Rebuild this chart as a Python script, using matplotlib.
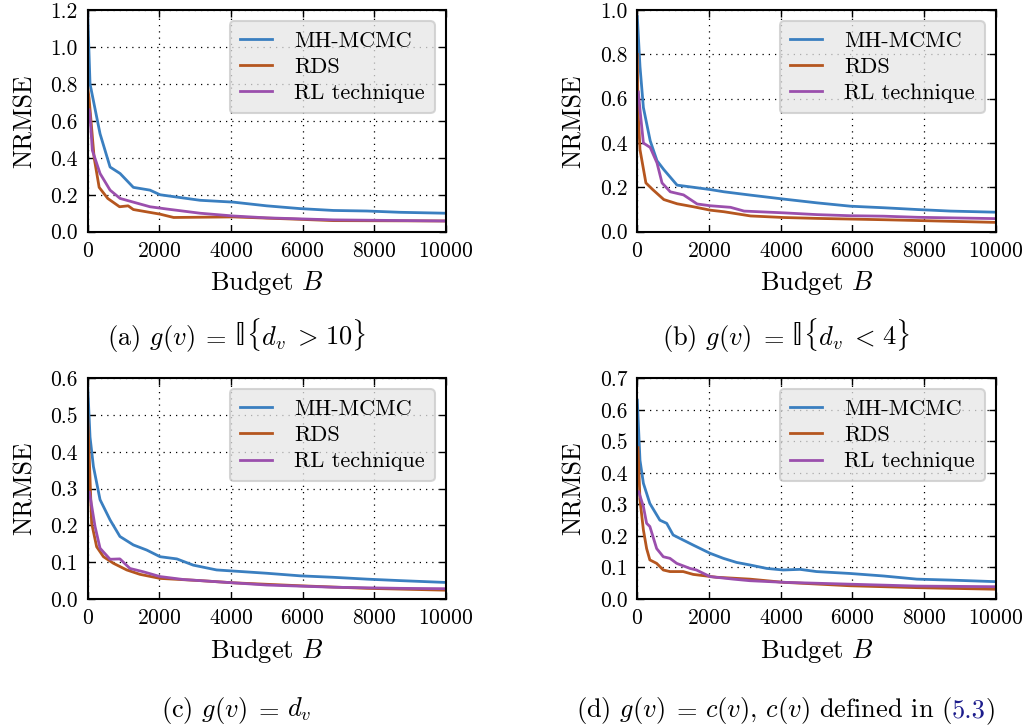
import matplotlib
matplotlib.use("Agg")
import matplotlib.pyplot as plt
import numpy as np

plt.rcParams['font.family'] = 'serif'
plt.rcParams['font.serif'] = ['cmr10', 'DejaVu Serif']
plt.rcParams['mathtext.fontset'] = 'cm'
plt.rcParams['axes.formatter.use_mathtext'] = True
plt.rcParams['axes.unicode_minus'] = False

# ---------------- data ----------------
series_names = ["MH-MCMC", "RDS", "RL technique"]
series_colors = ["#3a7fc0", "#b5561f", "#9b4fad"]

# panel (a)
a_mh_x = [0, 65, 345, 625, 905, 1275, 1740, 2020, 3140, 4070, 5000, 5930, 6860, 7800, 8730, 10000]
a_mh_y = [1.18, 0.80, 0.53, 0.35, 0.315, 0.24, 0.225, 0.20, 0.17, 0.16, 0.14, 0.125, 0.115, 0.112, 0.105, 0.10]
a_rds_x = [0, 40, 180, 320, 560, 890, 1130, 1275, 2020, 2400, 4070, 5930, 6860, 10000]
a_rds_y = [0.78, 0.72, 0.40, 0.24, 0.18, 0.135, 0.14, 0.12, 0.095, 0.077, 0.08, 0.067, 0.06, 0.058]
a_rl_x = [40, 60, 130, 345, 625, 905, 1275, 1740, 2200, 3140, 4070, 5000, 6860, 10000]
a_rl_y = [0.66, 0.64, 0.44, 0.315, 0.225, 0.18, 0.16, 0.135, 0.123, 0.10, 0.085, 0.075, 0.064, 0.058]

# panel (b)
b_mh_x = [0, 75, 170, 360, 550, 740, 1110, 1580, 2040, 2420, 3160, 4090, 5020, 5950, 6880, 7810, 8740, 10000]
b_mh_y = [0.97, 0.745, 0.56, 0.41, 0.32, 0.28, 0.21, 0.20, 0.19, 0.18, 0.165, 0.147, 0.13, 0.115, 0.108, 0.10, 0.093, 0.088]
b_rds_x = [0, 20, 75, 240, 430, 740, 1110, 1580, 2040, 2420, 3160, 4090, 5020, 5950, 6880, 10000]
b_rds_y = [0.80, 0.55, 0.37, 0.22, 0.19, 0.145, 0.126, 0.112, 0.097, 0.09, 0.071, 0.064, 0.06, 0.057, 0.054, 0.042]
b_rl_x = [30, 75, 170, 360, 550, 690, 920, 1290, 1670, 2040, 2600, 2980, 4090, 5020, 5950, 6880, 7810, 10000]
b_rl_y = [0.63, 0.55, 0.40, 0.38, 0.31, 0.22, 0.18, 0.166, 0.125, 0.117, 0.11, 0.093, 0.085, 0.077, 0.072, 0.07, 0.065, 0.059]

# panel (c)
c_mh_x = [0, 65, 160, 345, 625, 900, 1275, 1650, 2020, 2490, 2950, 3600, 4070, 5000, 5930, 6860, 7800, 8720, 10000]
c_mh_y = [0.58, 0.44, 0.36, 0.27, 0.215, 0.17, 0.147, 0.133, 0.115, 0.109, 0.092, 0.079, 0.076, 0.07, 0.063, 0.059, 0.054, 0.05, 0.045]
c_rds_x = [0, 45, 110, 250, 440, 720, 1090, 1460, 2020, 3140, 4070, 5930, 7800, 10000]
c_rds_y = [0.50, 0.38, 0.206, 0.142, 0.115, 0.097, 0.079, 0.067, 0.056, 0.05, 0.044, 0.036, 0.029, 0.024]
c_rl_x = [50, 205, 345, 625, 900, 1180, 1555, 2020, 2670, 3600, 5000, 6860, 8720, 10000]
c_rl_y = [0.29, 0.197, 0.138, 0.108, 0.109, 0.083, 0.074, 0.061, 0.053, 0.047, 0.038, 0.032, 0.029, 0.028]

# panel (d)
d_mh_x = [0, 75, 170, 260, 350, 630, 820, 1000, 1280, 1560, 2030, 2400, 2770, 3140, 3610, 4070, 4540, 5000, 5930, 6870, 7800, 8730, 10000]
d_mh_y = [0.63, 0.44, 0.367, 0.335, 0.303, 0.25, 0.24, 0.203, 0.187, 0.171, 0.145, 0.129, 0.116, 0.108, 0.097, 0.092, 0.094, 0.087, 0.081, 0.073, 0.063, 0.06, 0.055]
d_rds_x = [20, 75, 170, 260, 350, 540, 725, 910, 1280, 1560, 2210, 3140, 4070, 5930, 7800, 10000]
d_rds_y = [0.48, 0.314, 0.219, 0.16, 0.124, 0.113, 0.092, 0.087, 0.087, 0.078, 0.069, 0.063, 0.053, 0.042, 0.036, 0.031]
d_rl_x = [40, 170, 260, 350, 540, 725, 910, 1100, 1470, 1650, 2030, 2680, 3140, 4070, 5930, 7800, 10000]
d_rl_y = [0.34, 0.293, 0.24, 0.23, 0.16, 0.134, 0.129, 0.113, 0.097, 0.092, 0.071, 0.063, 0.058, 0.053, 0.047, 0.041, 0.039]

y_limits = [1.2, 1.0, 0.6, 0.7]
y_steps = [0.2, 0.2, 0.1, 0.1]
x_ticks = [0, 2000, 4000, 6000, 8000, 10000]

panels = [
    [(a_mh_x, a_mh_y), (a_rds_x, a_rds_y), (a_rl_x, a_rl_y)],
    [(b_mh_x, b_mh_y), (b_rds_x, b_rds_y), (b_rl_x, b_rl_y)],
    [(c_mh_x, c_mh_y), (c_rds_x, c_rds_y), (c_rl_x, c_rl_y)],
    [(d_mh_x, d_mh_y), (d_rds_x, d_rds_y), (d_rl_x, d_rl_y)],
]

BLUE_REF = '#1c1c8c'
BB = 'bb'   # marker for the blackboard-bold glyph
# caption pieces: (text, color, kind, gap_after_px)
captions = [
    [("(a) $g(v)$", 'black', 'cm', 7), ("$=$", 'black', 'cm', 7), ("\U0001D540", 'black', BB, 1),
     ("$\\{d_v$", 'black', 'cm', 7), ("$>$", 'black', 'cm', 7), ("$10\\}$", 'black', 'cm', 0)],
    [("(b) $g(v)$", 'black', 'cm', 7), ("$=$", 'black', 'cm', 7), ("\U0001D540", 'black', BB, 1),
     ("$\\{d_v$", 'black', 'cm', 7), ("$<$", 'black', 'cm', 7), ("$4\\}$", 'black', 'cm', 0)],
    [("(c) $g(v)$", 'black', 'cm', 7), ("$=$", 'black', 'cm', 7), ("$d_v$", 'black', 'cm', 0)],
    [("(d) $g(v)$", 'black', 'cm', 7), ("$=$", 'black', 'cm', 7),
     ("$c(v)$, $c(v)$ defined in (", 'black', 'cm', 0), ("5.3", BLUE_REF, 'cm', 0),
     (")", 'black', 'cm', 0)],
]

# ---------------- figure ----------------
W, H = 1028, 726
fig = plt.figure(figsize=(W / 100, H / 100), dpi=100)

axes_px = [  # left, top, right, bottom in pixels
    (87.7, 10.0, 445.7, 231.7),
    (637.3, 10.0, 995.7, 231.7),
    (87.7, 378.3, 445.7, 599.0),
    (637.3, 378.3, 995.7, 599.0),
]

for i, (l, t, r, b) in enumerate(axes_px):
    ax = fig.add_axes([l / W, 1 - b / H, (r - l) / W, (b - t) / H])
    for (xs, ys), name, col in zip(panels[i], series_names, series_colors):
        ax.plot(xs, ys, color=col, lw=2.0, label=name)
    ax.set_xlim(0, 10000)
    ax.set_ylim(0, y_limits[i])
    ax.set_xticks(x_ticks)
    ax.set_yticks(np.round(np.arange(0, y_limits[i] + 1e-9, y_steps[i]), 2))
    ax.yaxis.set_major_formatter(matplotlib.ticker.FormatStrFormatter('%.1f'))
    ax.tick_params(direction='in', top=True, right=True, length=5, width=1.0,
                   labelsize=15.5, pad=7, colors='black')
    for sp in ax.spines.values():
        sp.set_linewidth(1.5)
    ax.grid(True, color='black', linestyle=(0, (1, 4)), linewidth=0.9)
    ax.set_axisbelow(True)
    ax.set_xlabel(r"Budget $B$", fontsize=19, labelpad=6)
    ax.set_ylabel("NRMSE", fontsize=18.5, labelpad=10)
    leg = ax.legend(loc='upper right', fontsize=16, handlelength=1.45,
                    handletextpad=1.0, borderpad=0.45, labelspacing=0.3,
                    borderaxespad=0.5, fancybox=True, framealpha=0.75)
    leg.get_frame().set_facecolor('#e6e6e6')
    leg.get_frame().set_edgecolor('#c8c8c8')
    leg.get_frame().set_linewidth(1.5)

cap_fs = 19
cap_pos = [(236, 345), (786, 345), (236, 717), (786, 717)]
fig.canvas.draw()
renderer = fig.canvas.get_renderer()
for (cx, cy), pieces in zip(cap_pos, captions):
    texts = []
    gaps = []
    for s, c, kind, gap in pieces:
        if kind == BB:
            t = fig.text(0, 1 - cy / H, s, ha='left', va='baseline', fontsize=cap_fs * 1.3,
                         color=c, family=['STIXGeneral', 'DejaVu Serif', 'DejaVu Sans'])
        else:
            t = fig.text(0, 1 - cy / H, s, ha='left', va='baseline', fontsize=cap_fs, color=c)
        texts.append(t)
        gaps.append(gap)
    widths = [t.get_window_extent(renderer).width for t in texts]
    total = sum(widths) + sum(gaps[:-1])
    x = cx - total / 2
    for t, w, g in zip(texts, widths, gaps):
        t.set_x(x / W)
        x += w + g

fig.savefig("out.png", dpi=100)
